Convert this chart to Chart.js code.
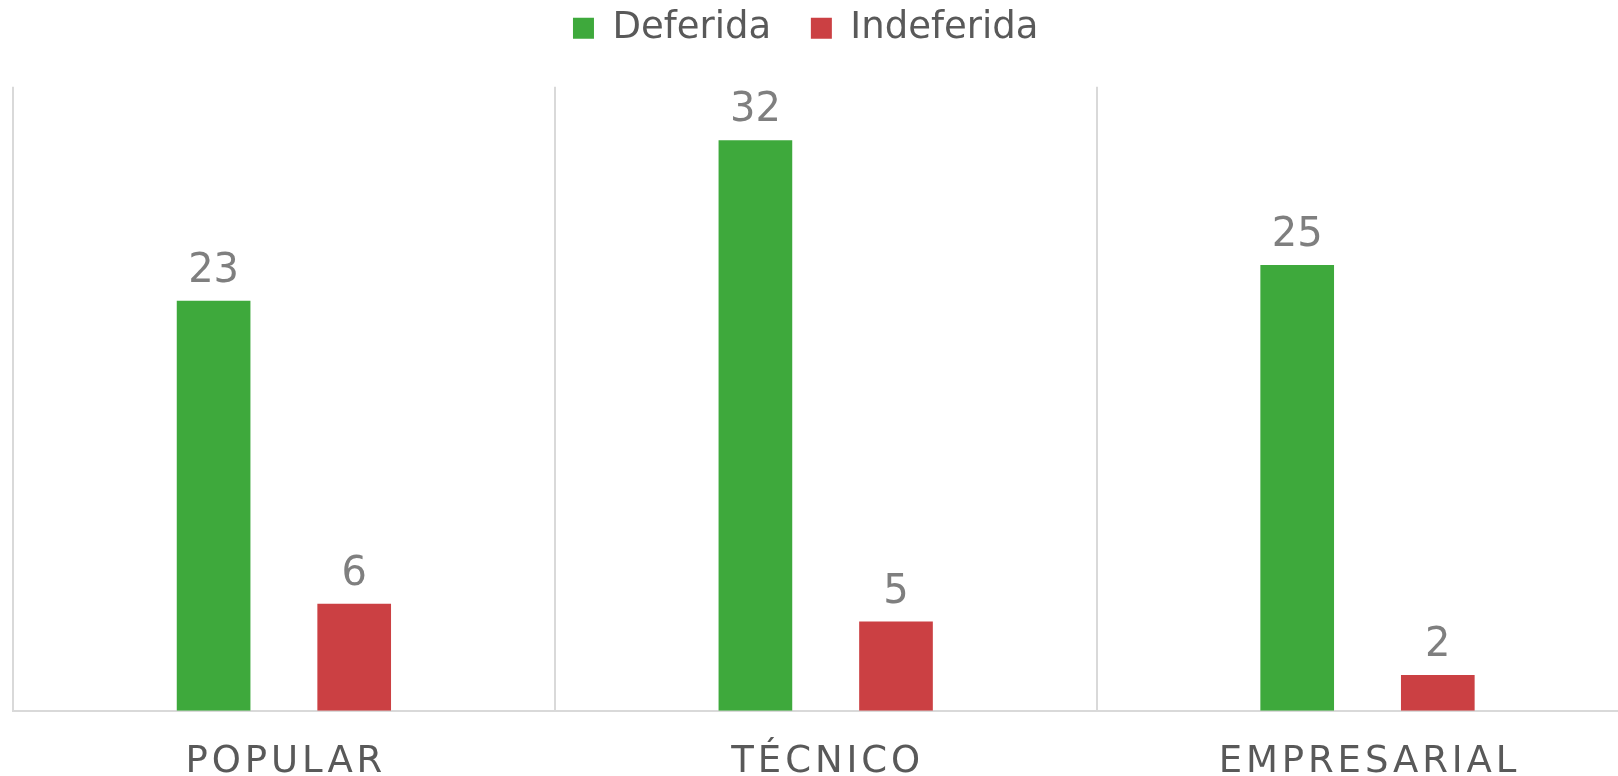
<!DOCTYPE html>
<html>
<head>
<meta charset="utf-8">
<script src="https://cdn.jsdelivr.net/npm/chart.js@4.4.1/dist/chart.umd.min.js"></script>
<style>
  html, body { margin: 0; padding: 0; background: #fff; overflow: hidden; }
  #wrap { position: absolute; left: 0; top: 0; width: 1640px; height: 776px; }
</style>
</head>
<body>
<div id="wrap"><canvas id="chart"></canvas></div>
<script>
// categorias e valores
const categories = ['POPULAR', 'TÉCNICO', 'EMPRESARIAL'];
const deferida   = [23, 32, 25];
const indeferida = [6, 5, 2];
const seriesNames = ['Deferida', 'Indeferida'];

const FONT   = 'DejaVu Sans';
const GREEN  = '#3ea93c';
const RED    = '#cb4043';
const GRID   = '#d9d9d9';

// rótulos de valor acima das barras
const valueLabels = {
  id: 'valueLabels',
  afterDatasetsDraw(chart) {
    const ctx = chart.ctx;
    ctx.save();
    ctx.font = `40px "${FONT}"`;
    ctx.fillStyle = '#7f7f7f';
    ctx.textAlign = 'center';
    ctx.textBaseline = 'alphabetic';
    chart.data.datasets.forEach((ds, di) => {
      chart.getDatasetMeta(di).data.forEach((bar, i) => {
        ctx.fillText(String(ds.data[i]), bar.x, bar.y - 19);
      });
    });
    ctx.restore();
  },
};

// rótulos do eixo x com espaçamento entre letras
const spacedTicks = {
  id: 'spacedTicks',
  afterDraw(chart) {
    const ctx = chart.ctx;
    const x = chart.scales.x;
    ctx.save();
    ctx.font = `37px "${FONT}"`;
    ctx.fillStyle = '#595959';
    ctx.textAlign = 'center';
    ctx.textBaseline = 'alphabetic';
    if ('letterSpacing' in ctx) ctx.letterSpacing = '3.9px';
    categories.forEach((c, i) => {
      ctx.fillText(c, x.getPixelForTick(i) + 2, 772);
    });
    ctx.restore();
  },
};

// legenda mais acima e centrada como no original
const legendNudge = {
  id: 'legendNudge',
  afterLayout(chart) {
    const lg = chart.legend;
    lg.top -= 30;
    lg.left -= 20;
    lg.right -= 20;
  },
};

new Chart(document.getElementById('chart'), {
  type: 'bar',
  data: {
    labels: categories,
    datasets: [
      { label: seriesNames[0], data: deferida,   backgroundColor: GREEN, borderWidth: 0 },
      { label: seriesNames[1], data: indeferida, backgroundColor: RED,   borderWidth: 0 },
    ],
  },
  options: {
    responsive: true,
    maintainAspectRatio: false,
    animation: false,
    categoryPercentage: 0.519,
    barPercentage: 0.524,
    layout: { padding: { left: 13, right: 1.6, top: 0, bottom: 65.3 } },
    scales: {
      x: {
        offset: true,
        grid: { color: GRID, lineWidth: 2, drawTicks: false, offset: true },
        border: { color: GRID, width: 2 },
        ticks: { display: false },
      },
      y: { display: false, min: 0, max: 35 },
    },
    plugins: {
      legend: {
        position: 'top',
        labels: {
          font: { family: FONT, size: 37 },
          color: '#595959',
          boxWidth: 21,
          boxHeight: 21,
          padding: 39.7,
        },
      },
      tooltip: { enabled: false },
    },
  },
  plugins: [valueLabels, spacedTicks, legendNudge],
});
</script>
</body>
</html>
